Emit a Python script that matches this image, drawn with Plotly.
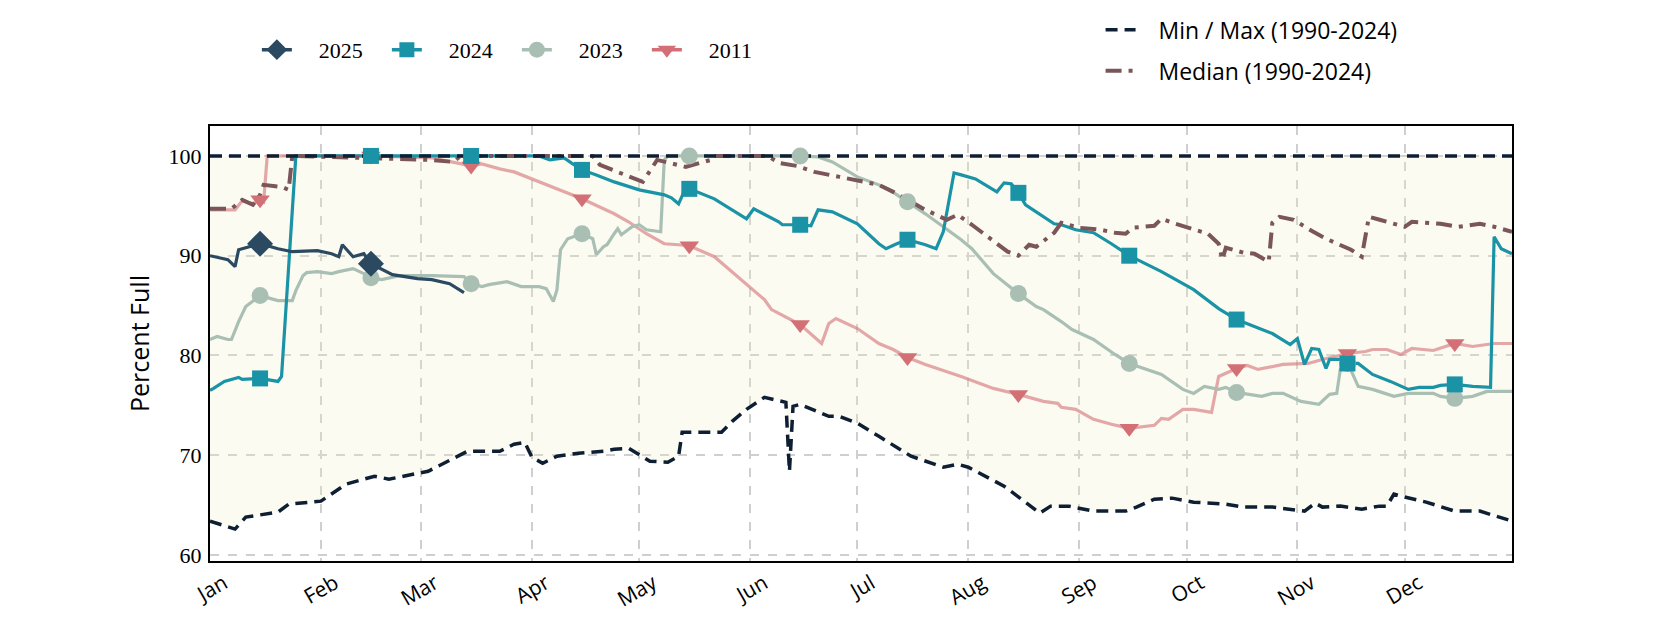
import pandas as pd
import plotly.graph_objects as go

# day-of-year (0 = Jan 1) and percent full
BASE = pd.Timestamp("2023-01-01")
MARKER_DAYS = [14, 45, 73, 104, 134, 165, 195, 226, 257, 287, 318, 348]  # 15th of each month

days_2025 = [0, 5, 7, 8, 14, 19, 23, 30, 34, 36, 37, 40, 43, 45, 51, 58, 62, 67, 71]
vals_2025 = [90.0, 89.6, 88.9, 90.6, 91.2, 90.7, 90.4, 90.5, 90.2, 89.9, 91.1, 89.9, 90.2,
             89.2, 88.1, 87.7, 87.6, 87.2, 86.3]

days_2024 = [0, 1, 4, 8, 9, 14, 19, 20, 24, 45, 73, 92, 95, 99, 101, 104, 108, 113, 120, 127,
             129, 131, 133, 134, 141, 150, 152, 159, 160, 165, 168, 170, 174, 181, 187, 189,
             192, 195, 200, 203, 205, 207, 208, 210, 214, 220, 222, 224, 226, 228, 236, 238,
             242, 247, 252, 257, 266, 275, 282, 287, 294, 297, 302, 304, 306, 308, 310, 312,
             313, 316, 318, 321, 325, 330, 335, 338, 342, 344, 348, 353, 358, 359, 361, 364]
vals_2024 = [76.5, 76.7, 77.4, 77.8, 77.6, 77.7, 77.4, 77.9, 100.0, 100.0, 100.0, 100.0, 99.6,
             99.8, 99.3, 98.6, 98.1, 97.4, 96.6, 96.1, 95.8, 95.2, 96.8, 96.7, 95.7, 93.7, 94.7,
             93.4, 93.1, 93.1, 93.0, 94.6, 94.4, 93.2, 91.2, 90.7, 91.2, 91.6, 91.1, 90.7, 92.4,
             96.3, 98.3, 98.1, 97.7, 96.4, 97.3, 97.2, 96.3, 95.1, 93.2, 93.1, 92.6, 92.3, 91.2,
             90.0, 88.4, 86.6, 84.7, 83.6, 82.6, 82.2, 81.1, 81.7, 79.1, 80.7, 80.6, 78.7, 79.6,
             79.6, 79.2, 79.2, 78.1, 77.4, 76.6, 76.8, 76.8, 77.0, 77.1, 76.9, 76.8, 91.9, 90.7,
             90.2]

days_2023 = [0, 2, 5, 6, 8, 10, 14, 19, 23, 24, 26, 27, 30, 34, 36, 40, 43, 45, 48, 53, 62,
             71, 73, 76, 78, 83, 87, 92, 94, 96, 97, 98, 100, 104, 107, 108, 110, 111, 113, 114,
             115, 118, 120, 122, 126, 127, 128, 134, 165, 170, 174, 181, 187, 190, 195, 200,
             210, 213, 219, 226, 231, 233, 238, 241, 247, 253, 257, 266, 272, 275, 278, 282,
             284, 287, 294, 297, 300, 305, 310, 313, 315, 316, 318, 319, 321, 325, 331, 335,
             342, 344, 348, 353, 357, 364]
vals_2023 = [81.6, 81.9, 81.6, 81.6, 83.4, 84.9, 86.0, 85.5, 85.5, 86.5, 88.0, 88.3, 88.4,
             88.2, 88.4, 88.7, 88.2, 87.8, 87.6, 88.0, 88.0, 87.9, 87.2, 86.9, 87.1, 87.4,
             86.9, 86.9, 86.7, 85.4, 86.6, 90.6, 91.7, 92.2, 91.7, 90.1, 90.9, 91.1, 92.2,
             92.7, 92.1, 92.9, 93.1, 92.6, 92.4, 99.6, 100.0, 100.0, 100.0, 99.9, 99.4, 97.9,
             97.1, 96.6, 95.4, 94.2, 91.6, 90.7, 88.2, 86.2, 84.9, 84.6, 83.4, 82.6, 81.6,
             80.1, 79.2, 78.1, 76.6, 76.2, 76.9, 76.6, 76.8, 76.3, 75.9, 76.2, 76.2, 75.4,
             75.1, 76.1, 76.2, 78.6, 79.2, 78.5, 76.9, 76.6, 75.9, 76.2, 76.2, 75.9, 75.7,
             75.9, 76.4, 76.4]

days_2011 = [0, 7, 9, 12, 14, 15, 16, 45, 62, 66, 73, 76, 81, 85, 94, 104, 113, 117, 122,
             127, 131, 134, 141, 150, 155, 157, 165, 171, 173, 175, 181, 187, 191, 195, 200,
             210, 219, 226, 233, 237, 238, 242, 247, 252, 257, 264, 266, 268, 272, 275, 280,
             282, 284, 287, 290, 293, 300, 307, 311, 318, 323, 325, 329, 333, 336, 342, 348,
             353, 359, 364]
vals_2011 = [94.6, 94.6, 95.5, 95.2, 95.6, 95.4, 100.0, 100.0, 99.8, 99.5, 99.0, 99.2, 98.7,
             98.4, 97.1, 95.7, 94.2, 93.4, 92.2, 91.2, 91.1, 91.0, 89.9, 87.2, 85.6, 84.6,
             83.1, 81.2, 83.2, 83.7, 82.7, 81.2, 80.6, 79.8, 79.1, 77.9, 76.7, 76.1, 75.4,
             75.2, 74.8, 74.6, 73.6, 73.1, 72.7, 73.0, 73.7, 73.6, 74.6, 74.6, 74.3, 77.9,
             78.2, 78.7, 79.0, 78.6, 79.1, 79.2, 79.6, 80.2, 80.4, 80.6, 80.6, 80.1, 80.7,
             80.5, 81.2, 80.9, 81.2, 81.2]

days_min = [0, 7, 10, 19, 22, 31, 38, 46, 50, 61, 72, 76, 81, 85, 88, 90, 93, 97, 103, 110,
            113, 117, 123, 128, 131, 132, 134, 143, 146, 150, 155, 160, 161, 162, 163, 165,
            173, 176, 181, 187, 196, 205, 209, 212, 222, 232, 235, 240, 247, 256, 259, 264,
            269, 275, 284, 289, 297, 306, 309, 311, 316, 322, 327, 329, 331, 333, 340, 348,
            355, 364]
vals_min = [63.4, 62.6, 63.8, 64.3, 65.1, 65.4, 67.1, 67.9, 67.6, 68.4, 70.4, 70.4, 70.4,
            71.1, 71.3, 69.8, 69.2, 69.9, 70.2, 70.4, 70.6, 70.7, 69.4, 69.3, 69.9, 72.3,
            72.3, 72.3, 73.4, 74.6, 75.8, 75.4, 75.3, 68.4, 74.9, 75.1, 73.9, 73.9, 73.2,
            71.9, 69.9, 68.8, 69.1, 68.8, 66.9, 64.2, 64.9, 64.9, 64.4, 64.4, 64.8, 65.6,
            65.7, 65.3, 65.1, 64.8, 64.8, 64.4, 65.2, 64.8, 64.9, 64.6, 64.9, 64.9, 66.1,
            65.9, 65.3, 64.4, 64.4, 63.4]

days_max = [0, 364]
vals_max = [100.0, 100.0]

days_med = [0, 6, 9, 12, 14, 15, 20, 22, 23, 53, 62, 68, 70, 103, 107, 109, 115, 121, 125,
            128, 133, 140, 141, 156, 159, 164, 169, 176, 181, 187, 191, 200, 206, 209, 213,
            223, 226, 229, 231, 236, 238, 240, 243, 249, 253, 256, 258, 264, 266, 270, 275,
            279, 282, 283, 284, 289, 292, 296, 297, 299, 303, 307, 312, 319, 322, 324, 327,
            334, 336, 344, 349, 355, 359, 363, 364]
vals_med = [94.7, 94.7, 95.6, 95.1, 96.1, 97.1, 96.9, 96.6, 100.0, 99.7, 99.6, 99.4, 100.0,
            100.0, 100.0, 99.1, 98.3, 97.4, 99.6, 99.3, 98.9, 99.6, 100.0, 100.0, 99.3, 99.0,
            98.4, 97.9, 97.5, 97.1, 96.4, 94.6, 93.6, 94.1, 93.1, 90.4, 90.0, 91.1, 90.9,
            92.3, 93.3, 93.1, 92.8, 92.6, 92.3, 92.2, 92.8, 93.0, 93.7, 93.2, 92.6, 92.2,
            91.2, 89.6, 90.8, 90.3, 90.2, 89.4, 93.3, 93.9, 93.6, 92.7, 91.7, 90.6, 89.9,
            93.9, 93.6, 92.9, 93.4, 93.2, 92.9, 93.2, 92.9, 92.5, 92.4]


def to_dates(days):
    return [BASE + pd.Timedelta(days=d) for d in days]


def marker_points(days, vals):
    pts = [(d, v) for d, v in zip(days, vals) if d in MARKER_DAYS]
    return to_dates([p[0] for p in pts]), [p[1] for p in pts]


series = [
    # name, days, values, line colour, marker colour, symbol, size
    ("2011", days_2011, vals_2011, "rgba(212,112,118,0.6)", "#D27076", "triangle-down", 17),
    ("2023", days_2023, vals_2023, "#A9BFB3", "#A9BFB3", "circle", 17),
    ("2024", days_2024, vals_2024, "#1A93A6", "#1A93A6", "square", 16),
    ("2025", days_2025, vals_2025, "#2B4A62", "#2B4A62", "diamond", 20),
]

DARK = "#0E1F33"
MEDIAN = "#7A5559"
MINMAX_DASH = "12px,7px"
MEDIAN_DASH = "16px,7px,4px,7px"
GAP = "\u00a0" * 4  # gap between legend symbol and text
fig = go.Figure()

# cream band between min and max
fig.add_trace(go.Scatter(x=to_dates(days_min), y=vals_min, mode="lines",
                         line=dict(width=0), showlegend=False, hoverinfo="skip"))
fig.add_trace(go.Scatter(x=to_dates(days_max), y=vals_max, mode="lines", fill="tonexty",
                         fillcolor="rgba(240,240,195,0.24)", line=dict(width=0),
                         showlegend=False, hoverinfo="skip"))

for name, d, v, lc, mc, sym, sz in series:
    fig.add_trace(go.Scatter(x=to_dates(d), y=v, mode="lines", name=name,
                             line=dict(color=lc, width=3.2), showlegend=False))

fig.add_trace(go.Scatter(x=to_dates(days_med), y=vals_med, mode="lines",
                         line=dict(color=MEDIAN, width=4, dash=MEDIAN_DASH),
                         showlegend=False))
fig.add_trace(go.Scatter(x=to_dates(days_min), y=vals_min, mode="lines",
                         line=dict(color=DARK, width=3.5, dash=MINMAX_DASH), showlegend=False))
fig.add_trace(go.Scatter(x=to_dates(days_max), y=vals_max, mode="lines",
                         line=dict(color=DARK, width=3.5, dash=MINMAX_DASH), showlegend=False))

for name, d, v, lc, mc, sym, sz in series:
    mx, my = marker_points(d, v)
    fig.add_trace(go.Scatter(x=mx, y=my, mode="markers",
                             marker=dict(symbol=sym, size=sz, color=mc), showlegend=False))

# legend entries
for name, d, v, lc, mc, sym, sz in reversed(series):
    fig.add_trace(go.Scatter(x=[None], y=[None], mode="lines+markers", name=GAP + name,
                             line=dict(color=mc, width=3.5),
                             marker=dict(symbol=sym, size=sz - 1, color=mc), legend="legend"))
fig.add_trace(go.Scatter(x=[None], y=[None], mode="lines",
                         name="\u00a0\u00a0\u00a0Min / Max (1990-2024)",
                         line=dict(color=DARK, width=3.5, dash=MINMAX_DASH),
                         legend="legend2", legendgroup="a"))
fig.add_trace(go.Scatter(x=[None], y=[None], mode="lines",
                         name="\u00a0\u00a0\u00a0Median (1990-2024)",
                         line=dict(color=MEDIAN, width=4, dash=MEDIAN_DASH),
                         legend="legend2", legendgroup="b"))

fig.update_layout(
    width=1680, height=630,
    margin=dict(l=202, r=176, t=118, b=77, autoexpand=False),
    paper_bgcolor="white", plot_bgcolor="white",
    font=dict(family="Open Sans", size=20, color="black"),
    legend=dict(orientation="h", traceorder="normal", x=0.036, xanchor="left", y=1.175,
                yanchor="middle", font=dict(family="Liberation Serif", size=22),
                entrywidth=85, bgcolor="rgba(0,0,0,0)"),
    legend2=dict(orientation="v", traceorder="grouped", x=0.684, xanchor="left", y=1.174,
                 yanchor="middle", font=dict(family="Open Sans", size=23), tracegroupgap=8,
                 bgcolor="rgba(0,0,0,0)"),
)
fig.update_xaxes(
    type="date", range=[BASE, BASE + pd.Timedelta(days=364)],
    dtick="M1", tick0=BASE, tickformat="%b", tickangle=-30,
    ticklabelshift=14, ticklabelstandoff=0,
    showgrid=True, gridcolor="#CFCFCF", griddash="dash", gridwidth=1.5,
    showline=True, linecolor="black", linewidth=2, mirror=True, ticks="", ticklen=0,
    tickfont=dict(family="Open Sans", size=21),
)
fig.update_yaxes(
    range=[59.4, 103.0], tickvals=[60, 70, 80, 90, 100],
    title=dict(text="Percent Full", font=dict(family="Open Sans", size=25), standoff=12),
    showgrid=True, gridcolor="#CFCFCF", griddash="dash", gridwidth=1.5,
    showline=True, linecolor="black", linewidth=2, mirror=True, ticks="", ticklen=0,
    ticklabelstandoff=2, zeroline=False,
    tickfont=dict(family="Liberation Serif", size=22),
)

fig.write_html("out.html")
